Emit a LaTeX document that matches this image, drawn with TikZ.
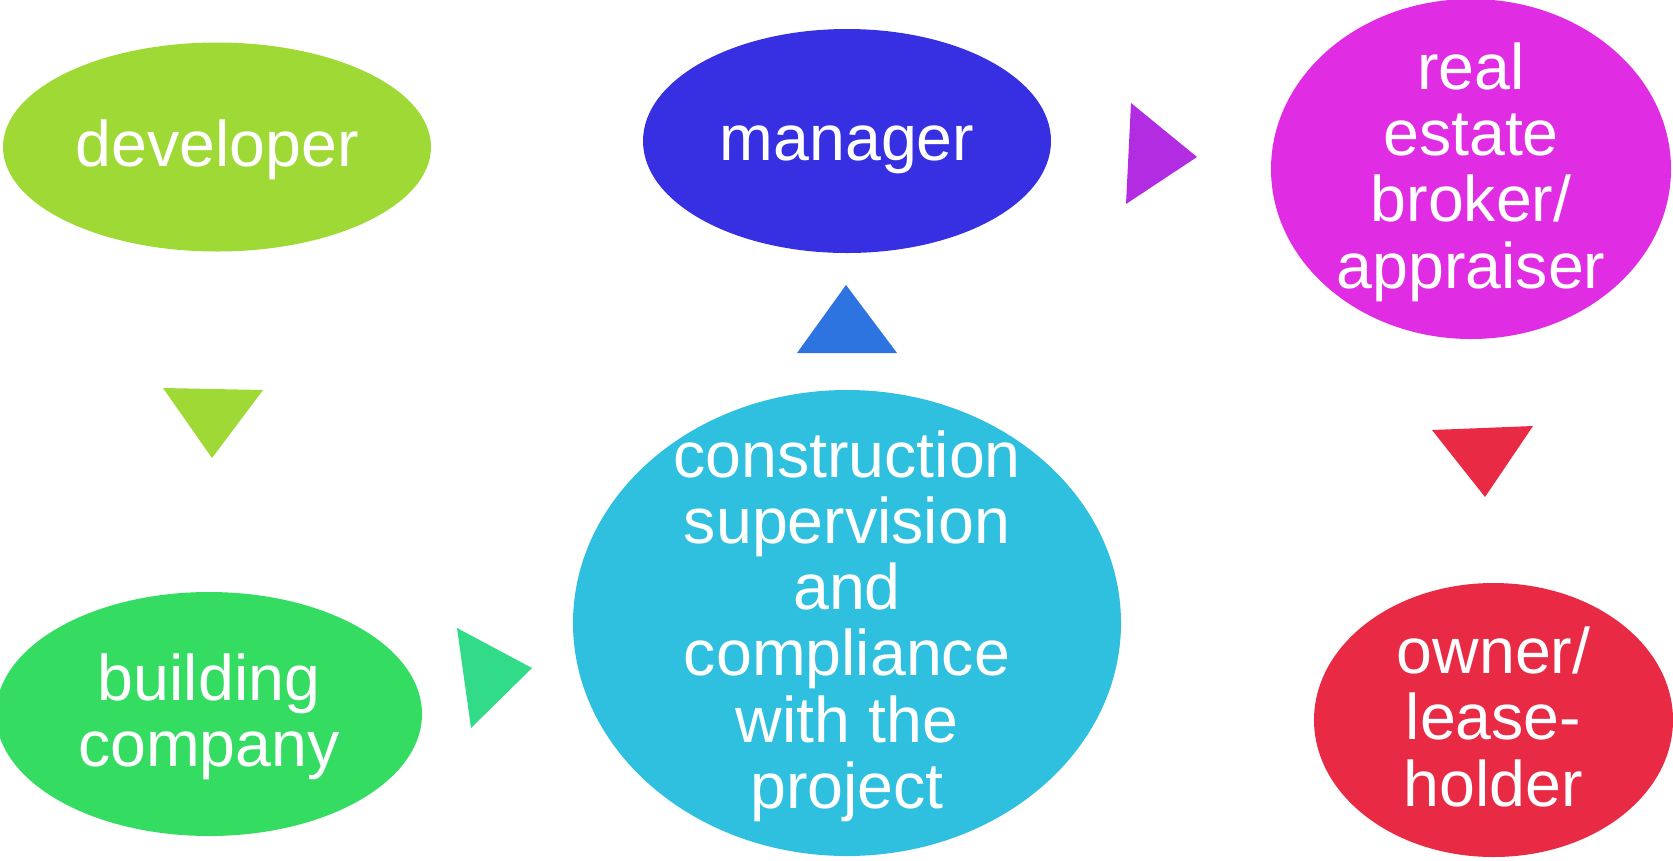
\documentclass[tikz,border=0pt]{standalone}
\usepackage{fontspec}
\setmainfont{Liberation Sans}
\usetikzlibrary{shapes.geometric}
\newcommand{\pxu}{0.02cm}
% line strut: height 30pt, depth 7.4pt (centres the line box like the reference)
\newcommand{\lsk}{\rule[-7.4pt]{0pt}{37.4pt}}
\definecolor{cDev}{HTML}{9ED935}
\definecolor{cMgr}{HTML}{3730E3}
\definecolor{cRe}{HTML}{E02DE3}
\definecolor{cBld}{HTML}{34DC62}
\definecolor{cCon}{HTML}{2EC0DE}
\definecolor{cOwn}{HTML}{E82A44}
\definecolor{tBld}{HTML}{31DB88}
\definecolor{tCon}{HTML}{2E74E0}
\definecolor{tMgr}{HTML}{B22CE2}
\tikzset{
  bubble/.style={ellipse, draw=none, inner sep=0pt, outer sep=0pt},
  txt/.style={text=white, align=center, font=\fontsize{36.7}{37.7}\selectfont, inner sep=0pt},
}
\begin{document}
\begin{tikzpicture}[x=0.02cm, y=-0.02cm]
\useasboundingbox (0,0) rectangle (1673,860);
\clip (0,0) rectangle (1673,860);
% bubbles
\node[bubble, fill=cDev, minimum width=428*\pxu, minimum height=209*\pxu] (dev) at (217,147) {};
\node[bubble, fill=cMgr, minimum width=408*\pxu, minimum height=224*\pxu] (mgr) at (847,141) {};
\node[bubble, fill=cRe, minimum width=400*\pxu, minimum height=340*\pxu] (re) at (1471,169) {};
\node[bubble, fill=cBld, minimum width=426*\pxu, minimum height=244*\pxu] (bld) at (209,714) {};
\node[bubble, fill=cCon, minimum width=548*\pxu, minimum height=466*\pxu] (con) at (847,623) {};
\node[bubble, fill=cOwn, minimum width=359*\pxu, minimum height=274*\pxu] (own) at (1493.5,720) {};
% texts
\node[txt] (devt) at (dev) {\lsk developer};
\node[txt] (mgrt) at (mgr) {\lsk manager};
\node[txt] (ret) at (re) {\lsk real\\\lsk estate\\\lsk broker/\\\lsk appraiser};
\node[txt] (bldt) at (bld) {\lsk building\\\lsk company};
\node[txt] (cont) at (con) {\lsk construction\\\lsk supervision\\\lsk and\\\lsk compliance\\\lsk with the\\\lsk project};
\node[txt] (ownt) at (own) {\lsk owner/\\\lsk lease-\\\lsk holder};
% arrow triangles
\fill[cDev] (163,388) -- (263,390) -- (212,458) -- cycle;
\fill[tBld] (457,628) -- (532,668) -- (471,728) -- cycle;
\fill[tCon] (797,353) -- (897,353) -- (846,285) -- cycle;
\fill[tMgr] (1131,103) -- (1197,157) -- (1126,204) -- cycle;
\fill[cOwn] (1432,430) -- (1533,426) -- (1485,497) -- cycle;
\end{tikzpicture}
\end{document}
